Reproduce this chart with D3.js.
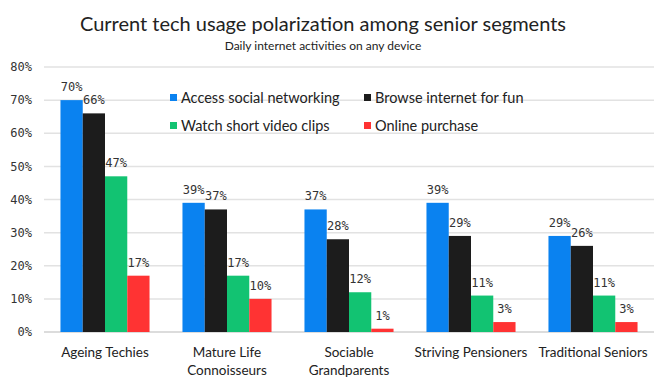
<!DOCTYPE html>
<html lang="en">
<head>
<meta charset="UTF-8" />
<title>Senior segments</title>
<script src="https://d3js.org/d3.v7.min.js"></script>
<style>
  body { margin: 0; background: #fff; }
  svg { display: block; }
</style>
</head>
<body>
<div id="chart"></div>
<script>
  const segments = ["Ageing Techies", "Mature Life Connoisseurs", "Sociable Grandparents", "Striving Pensioners", "Traditional Seniors"];
  const segmentLines = [["Ageing Techies"], ["Mature Life", "Connoisseurs"], ["Sociable", "Grandparents"], ["Striving Pensioners"], ["Traditional Seniors"]];
  const seriesNames = ["Access social networking", "Browse internet for fun", "Watch short video clips", "Online purchase"];
  const socialNetworking = [70, 39, 37, 39, 29];
  const browseForFun = [66, 37, 28, 29, 26];
  const shortVideo = [47, 17, 12, 11, 11];
  const onlinePurchase = [17, 10, 1, 3, 3];
  const yTicks = [0, 10, 20, 30, 40, 50, 60, 70, 80];
  const colors = ["#0a82f0", "#1c1c1c", "#12c372", "#ff3333"];

  const series = [socialNetworking, browseForFun, shortVideo, onlinePurchase];

  const width = 672, height = 384;
  const margin = { top: 67, right: 18, bottom: 52, left: 44 };

  const svg = d3.select("#chart").append("svg")
    .attr("width", width)
    .attr("height", height);

  const x0 = d3.scaleBand()
    .domain(segments)
    .range([margin.left, width - margin.right])
    .paddingInner(0.27)
    .paddingOuter(0.135);

  const x1 = d3.scaleBand()
    .domain(d3.range(series.length))
    .range([0, x0.bandwidth()]);

  const y = d3.scaleLinear()
    .domain([0, 80])
    .range([height - margin.bottom, margin.top]);

  // gridlines
  svg.append("g")
    .selectAll("line")
    .data(yTicks)
    .join("line")
    .attr("x1", margin.left)
    .attr("x2", width - margin.right)
    .attr("y1", d => y(d))
    .attr("y2", d => y(d))
    .attr("stroke", d => d === 0 ? "#d0d0d0" : "#e2e2e2")
    .attr("stroke-width", 1.5);

  // y tick labels
  svg.append("g")
    .selectAll("text")
    .data(yTicks)
    .join("text")
    .attr("x", 32)
    .attr("y", d => y(d))
    .attr("dy", "0.35em")
    .attr("text-anchor", "end")
    .attr("font-family", "DejaVu Sans Mono")
    .attr("font-size", 12)
    .attr("fill", "#333")
    .text(d => d + "%");

  // title
  svg.append("text")
    .attr("x", 323)
    .attr("y", 31)
    .attr("text-anchor", "middle")
    .attr("font-family", "Lato")
    .attr("font-size", 20)
    .attr("fill", "#222")
    .text("Current tech usage polarization among senior segments");

  svg.append("text")
    .attr("x", 323)
    .attr("y", 50)
    .attr("text-anchor", "middle")
    .attr("font-family", "Lato")
    .attr("font-size", 12)
    .attr("fill", "#222")
    .text("Daily internet activities on any device");

  // legend
  const legendPos = [[170, 98], [364, 98], [170, 126], [364, 126]];
  const legend = svg.append("g")
    .selectAll("g")
    .data(seriesNames)
    .join("g")
    .attr("transform", (d, i) => `translate(${legendPos[i][0]},${legendPos[i][1]})`);
  legend.append("rect")
    .attr("x", 0).attr("y", -4)
    .attr("width", 7).attr("height", 7)
    .attr("fill", (d, i) => colors[i]);
  legend.append("text")
    .attr("x", 11)
    .attr("dy", "0.35em")
    .attr("font-family", "Lato")
    .attr("font-size", 14.5)
    .attr("fill", "#222")
    .text(d => d);

  // bars
  const groups = svg.append("g")
    .selectAll("g")
    .data(segments)
    .join("g")
    .attr("transform", d => `translate(${x0(d)},0)`);

  groups.selectAll("rect")
    .data((d, i) => series.map((s, k) => ({ k, v: s[i] })))
    .join("rect")
    .attr("x", d => x1(d.k))
    .attr("y", d => y(d.v))
    .attr("width", x1.bandwidth())
    .attr("height", d => y(0) - y(d.v))
    .attr("fill", d => colors[d.k]);

  groups.selectAll("text.val")
    .data((d, i) => series.map((s, k) => ({ k, v: s[i] })))
    .join("text")
    .attr("class", "val")
    .attr("x", d => x1(d.k) + x1.bandwidth() / 2)
    .attr("y", d => y(d.v) - 9)
    .attr("text-anchor", "middle")
    .attr("font-family", "DejaVu Sans Mono")
    .attr("font-size", 12)
    .attr("fill", "#333")
    .text(d => d.v + "%");

  // category labels
  const cat = svg.append("g")
    .selectAll("text")
    .data(segments)
    .join("text")
    .attr("x", d => x0(d) + x0.bandwidth() / 2)
    .attr("y", 357)
    .attr("text-anchor", "middle")
    .attr("font-family", "Lato")
    .attr("font-size", 13.5)
    .attr("fill", "#222");
  cat.selectAll("tspan")
    .data((d, i) => segmentLines[i])
    .join("tspan")
    .attr("x", function () { return this.parentNode.getAttribute("x"); })
    .attr("dy", (d, i) => i === 0 ? 0 : 18)
    .text(d => d);
</script>
</body>
</html>
